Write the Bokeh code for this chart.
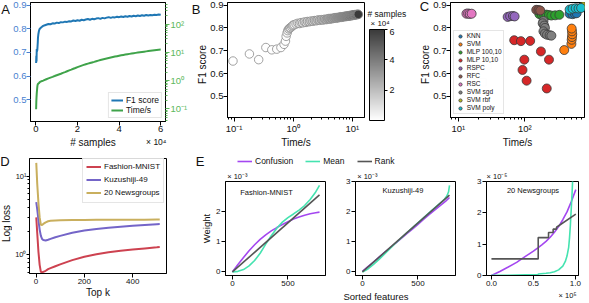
import math
from bokeh.plotting import figure
from bokeh.layouts import row, column
from bokeh.models import (Range1d, LogAxis, LogScale, Legend, LegendItem, Label, ColorBar, BoxAnnotation, Title,
                          LinearColorMapper, FixedTicker, CustomJSTickFormatter, ColumnDataSource,
                          PrintfTickFormatter, Plot)
from bokeh.transform import transform
from bokeh.embed import file_html
from bokeh.resources import INLINE

FONT = "Liberation Sans"

# ---------------- data ----------------
# A / B : learning curve
samples = [100, 200, 300, 400, 500, 600, 700, 800, 900, 1000,
           1200, 1400, 1600, 1800, 2000, 2500, 3000, 3500, 4000, 5000,
           6000, 7000, 8000, 9000, 10000,
           11000, 12000, 13000, 14000, 15000, 16000, 17000, 18000, 19000, 20000,
           21000, 22000, 23000, 24000, 25000, 26000, 27000, 28000, 29000, 30000,
           31000, 32000, 33000, 34000, 35000, 36000, 37000, 38000, 39000, 40000,
           41000, 42000, 43000, 44000, 45000, 46000, 47000, 48000, 49000, 50000,
           51000, 52000, 53000, 54000, 55000, 56000, 57000, 58000, 59000, 60000]
f1_score = [0.655, 0.686, 0.661, 0.714, 0.704, 0.707, 0.714, 0.728, 0.742, 0.763,
            0.778, 0.788, 0.795, 0.799, 0.801, 0.805, 0.809, 0.812, 0.814, 0.817,
            0.820, 0.819, 0.823, 0.822, 0.826,
            0.824, 0.828, 0.827, 0.830, 0.829, 0.832, 0.831, 0.835, 0.833, 0.836,
            0.834, 0.838, 0.836, 0.839, 0.841, 0.838, 0.842, 0.840, 0.843, 0.845,
            0.842, 0.846, 0.844, 0.847, 0.849, 0.846, 0.849, 0.848, 0.851, 0.849,
            0.852, 0.850, 0.853, 0.851, 0.854, 0.852, 0.855, 0.853, 0.856, 0.854,
            0.857, 0.855, 0.858, 0.856, 0.858, 0.857, 0.859, 0.858, 0.860, 0.859]
time_s = [0.096, 0.182, 0.261, 0.345, 0.435, 0.527, 0.62, 0.70, 0.74, 0.76,
          0.79, 0.81, 0.84, 0.87, 0.90, 0.94, 0.97, 1.0, 1.04, 1.12,
          1.2, 1.28, 1.36, 1.45, 1.55,
          1.65, 1.75, 1.88, 2.0, 2.15, 2.3, 2.45, 2.62, 2.8, 3.0,
          3.2, 3.4, 3.6, 3.8, 4.0, 4.2, 4.4, 4.6, 4.85, 5.1,
          5.35, 5.6, 5.85, 6.1, 6.35, 6.6, 6.85, 7.1, 7.35, 7.6,
          7.85, 8.1, 8.35, 8.6, 8.85, 9.1, 9.35, 9.6, 9.85, 10.1,
          10.35, 10.6, 10.85, 11.1, 11.35, 11.6, 11.85, 12.1, 12.35, 12.6]

# C : classifiers (time in s, F1 score)
knn_t = [470, 520, 560, 600];            knn_f1 = [0.862, 0.860, 0.863, 0.864]
svm_t = [390, 500, 505, 510, 515, 510, 505]
svm_f1 = [0.703, 0.730, 0.748, 0.760, 0.772, 0.785, 0.797]
mlp100_t = [165, 180, 195, 210, 230, 250, 285, 330]
mlp100_f1 = [0.860, 0.857, 0.855, 0.858, 0.856, 0.854, 0.855, 0.857]
mlp10_t = [69, 87, 120, 174, 98, 230, 92, 106, 213]
mlp10_f1 = [0.746, 0.742, 0.743, 0.697, 0.661, 0.661, 0.616, 0.569, 0.535]
rspc_t = [55, 60, 66, 70];               rspc_f1 = [0.848, 0.851, 0.852, 0.850]
rfc_t = [148, 160, 170];                 rfc_f1 = [0.879, 0.878, 0.876]
rsc_t = [13.2, 14.0, 14.8, 15.8];        rsc_f1 = [0.862, 0.863, 0.861, 0.862]
sgd_t = [190, 185, 195, 200, 190, 200, 215, 235, 250]
sgd_f1 = [0.830, 0.820, 0.810, 0.800, 0.785, 0.775, 0.770, 0.768, 0.766]
rbf_t = [750, 820];                      rbf_f1 = [0.895, 0.902]
poly_t = [470, 520, 580, 640, 700];      poly_f1 = [0.880, 0.884, 0.886, 0.885, 0.887]
clf_names = ["KNN", "SVM", "MLP 100,10", "MLP 10,10", "RSPC", "RFC", "RSC", "SVM sgd", "SVM rbf", "SVM poly"]
clf_colors = ["#1f77b4", "#ff7f0e", "#2ca02c", "#d62728", "#9467bd", "#8c564b", "#e377c2", "#7f7f7f", "#bcbd22", "#17becf"]
clf_data = [(knn_t, knn_f1), (svm_t, svm_f1), (mlp100_t, mlp100_f1), (mlp10_t, mlp10_f1), (rspc_t, rspc_f1),
            (rfc_t, rfc_f1), (rsc_t, rsc_f1), (sgd_t, sgd_f1), (rbf_t, rbf_f1), (poly_t, poly_f1)]

# D : log loss vs top k
topk = [1, 5, 10, 15, 20, 25, 30, 40, 50, 60, 80, 100, 150, 200, 250, 300, 350, 400, 450, 500, 512]
loss_fashion = [3.0, 1.9, 1.1, 0.75, 0.61, 0.60, 0.61, 0.63, 0.66, 0.68, 0.72, 0.76, 0.86, 0.95, 1.02, 1.08, 1.13, 1.17, 1.21, 1.25, 1.26]
loss_kuzushiji = [4.7, 3.8, 2.8, 2.1, 1.75, 1.6, 1.55, 1.53, 1.56, 1.6, 1.68, 1.75, 1.92, 2.04, 2.14, 2.22, 2.29, 2.35, 2.41, 2.46, 2.47]
loss_news = [14.8, 8.0, 4.6, 3.0, 2.42, 2.40, 2.48, 2.6, 2.68, 2.72, 2.75, 2.77, 2.78, 2.79, 2.8, 2.8, 2.8, 2.81, 2.81, 2.82, 2.82]

# E : weights (E1/E2 in units of 1e-3, E3 in 1e-5; E3 features in 1e5)
feat784 = [0, 50, 100, 150, 200, 250, 300, 350, 400, 450, 500, 550, 600, 650, 700, 750, 784]
fm_confusion = [0, 0.25, 0.48, 0.70, 0.90, 1.08, 1.23, 1.36, 1.47, 1.57, 1.66, 1.75, 1.82, 1.88, 1.93, 1.96, 1.98]
fm_mean = [0, 0.02, 0.08, 0.20, 0.38, 0.62, 0.92, 1.20, 1.45, 1.65, 1.80, 1.92, 2.05, 2.20, 2.40, 2.65, 2.87]
rank_x = [0, 784]
fm_rank = [0, 2.55]
kz_confusion = [0.02, 0.18, 0.33, 0.49, 0.65, 0.80, 0.96, 1.11, 1.27, 1.42, 1.58, 1.74, 1.90, 2.05, 2.20, 2.35, 2.47]
kz_mean_x = [0, 50, 100, 150, 200, 300, 400, 500, 600, 700, 740, 760, 775, 784]
kz_mean = [0, 0.10, 0.25, 0.42, 0.60, 0.96, 1.30, 1.63, 1.96, 2.28, 2.42, 2.52, 2.65, 2.87]
kz_rank = [0, 2.55]
ng_conf_x = [0, 0.1, 0.2, 0.3, 0.4, 0.5, 0.557, 0.6, 0.65, 0.7, 0.75, 0.8, 0.85, 0.9, 0.95, 1.005]
ng_confusion = [0, 0.13, 0.27, 0.42, 0.60, 0.78, 0.89, 0.98, 1.09, 1.22, 1.38, 1.56, 1.78, 2.03, 2.35, 2.74]
ng_mean_x = [0, 0.2, 0.4, 0.55, 0.56, 0.65, 0.7, 0.75, 0.8, 0.85, 0.88, 0.9, 0.92, 0.93, 0.94, 0.95, 0.96, 0.97, 0.98]
ng_mean = [0.01, 0.01, 0.02, 0.02, 0.05, 0.07, 0.09, 0.12, 0.18, 0.30, 0.45, 0.62, 0.90, 1.20, 1.60, 2.10, 2.60, 3.20, 4.00]
ng_rank_x = [0, 0.557, 0.557, 0.68, 0.68, 0.735, 0.735, 0.775, 0.775, 1.005]
ng_rank = [0.53, 0.53, 1.21, 1.21, 1.37, 1.37, 1.48, 1.48, 1.54, 1.96]

# ---------------- helpers ----------------
C_CONF, C_MEAN, C_RANK = "#a447f0", "#45e3b0", "#555555"
C_FM, C_KZ, C_NG = "#cd4250", "#7465c8", "#c9af5e"
TXT = "#111111"
HAS_FRAME_ALIGN = "frame_align" in Plot.properties()


def no_align(p):
    if HAS_FRAME_ALIGN:
        p.frame_align = False
    return p


def fig(w, h, l, r, t, b, **kw):
    return no_align(figure(width=w, height=h, min_border_left=l, min_border_right=r, min_border_top=t,
                           min_border_bottom=b, toolbar_location=None, output_backend="svg", **kw))


def strip(w, h, **kw):
    # axis-less figure whose frame is the whole canvas; used to host free text
    opts = dict(x_range=Range1d(0, 1), y_range=Range1d(0, 1))
    opts.update(kw)
    return no_align(figure(width=w, height=h, x_axis_type=None, y_axis_type=None, min_border=0,
                           toolbar_location=None, output_backend="svg", outline_line_color=None, **opts))


def sup_fmt():
    return CustomJSTickFormatter(code="""
        const m = {"-": "\u207b", "0": "\u2070", "1": "\u00b9", "2": "\u00b2", "3": "\u00b3", "4": "\u2074",
                   "5": "\u2075", "6": "\u2076", "7": "\u2077", "8": "\u2078", "9": "\u2079"};
        const e = Math.round(Math.log10(tick));
        return "10" + String(e).split("").map(c => m[c]).join("");
    """)


def log_minor(lo, hi):
    return [m * 10.0 ** e for e in range(lo, hi + 1) for m in range(2, 10)]


def style(p, tick_size, label_size):
    p.outline_line_color = "black"
    p.outline_line_width = 1
    p.grid.visible = False
    for ax in p.axis:
        ax.axis_line_color = "black"
        ax.major_tick_out = 4
        ax.major_tick_in = 0
        ax.minor_tick_out = 2
        ax.minor_tick_in = 0
        ax.major_label_text_font = FONT
        ax.major_label_text_font_size = tick_size
        ax.major_label_text_color = TXT
        ax.major_label_standoff = 1
        ax.axis_label_standoff = 0
        ax.axis_label_text_font = FONT
        ax.axis_label_text_font_size = label_size
        ax.axis_label_text_font_style = "normal"
        ax.axis_label_text_color = TXT


def text(p, x, y, s, size, align="center", angle=0):
    # x, y: px from the frame's bottom-left corner
    p.add_layout(Label(x=x, y=y, x_units="screen", y_units="screen", text=s, text_font=FONT,
                       text_font_size=size, text_align=align, text_baseline="middle", text_color=TXT,
                       angle=angle))


def title(p, s, side, size, align, offset, standoff):
    p.add_layout(Title(text=s, align=align, offset=offset, standoff=standoff, text_font=FONT,
                       text_font_size=size, text_font_style="normal", text_color=TXT), side)


def legend_style(lg, size, gw, gh, lh, pad=3, border="#cccccc", standoff=3):
    lg.label_text_font = FONT
    lg.label_text_font_size = size
    lg.label_text_color = TXT
    lg.glyph_width = gw
    lg.glyph_height = gh
    lg.label_height = lh
    lg.spacing = 0
    lg.padding = pad
    lg.margin = 3
    lg.label_standoff = standoff
    lg.border_line_color = border
    lg.border_line_width = 1
    lg.background_fill_alpha = 0.85


n_1e4 = [s / 1e4 for s in samples]
ROW1_TICK, ROW1_LAB = "9.5px", "10px"
LETTER = "13px"

# ---------------- A ----------------
sA = strip(10, 150)
text(sA, 5, 150 - 8.5, "A", LETTER)

pA = fig(180, 136, 17, 25, 2, 15, x_range=Range1d(-0.26, 6.23), y_range=Range1d(0.408, 0.911))
pA.extra_y_ranges = {"time": Range1d(0.0356, 585)}
pA.extra_y_scales = {"time": LogScale()}
rax = LogAxis(y_range_name="time")
pA.add_layout(rax, "right")
rA1 = pA.line(n_1e4, f1_score, line_color="#1f77b4", line_width=2)
rA2 = pA.line(n_1e4, time_s, line_color="#3fa34a", line_width=2, y_range_name="time")
style(pA, ROW1_TICK, ROW1_LAB)
pA.xaxis.ticker = FixedTicker(ticks=[0, 2, 4, 6])
pA.xaxis.minor_tick_line_color = None
pA.xaxis.major_label_standoff = 0
pA.yaxis[0].ticker = FixedTicker(ticks=[0.5, 0.6, 0.7, 0.8, 0.9])
pA.yaxis[0].minor_tick_line_color = None
pA.yaxis[0].major_label_standoff = 0
pA.yaxis[0].major_label_text_color = "#4a7fcf"
pA.yaxis[0].major_tick_line_color = "#4a7fcf"
rax.ticker = FixedTicker(ticks=[0.1, 1, 10, 100], minor_ticks=log_minor(-2, 2))
rax.formatter = sup_fmt()
rax.major_label_text_color = "#5cb85c"
rax.major_tick_line_color = "#5cb85c"
rax.minor_tick_line_color = "#5cb85c"
legA = Legend(items=[LegendItem(label="F1 score", renderers=[rA1]), LegendItem(label="Time/s", renderers=[rA2])],
              location="bottom_right")
legend_style(legA, "8.5px", 12, 10, 10, pad=2)
pA.add_layout(legA)

sA2 = strip(180, 14)
text(sA2, 92.5 - 10, 150 - 141.5, "# samples", ROW1_LAB)
text(sA2, 166 - 10, 150 - 141, "\u00d7 10\u2074", "8.5px", align="right")

# ---------------- B ----------------
sB = strip(17, 150)
text(sB, 5.5, 150 - 8.5, "B", LETTER)
text(sB, 12, 150 - 64, "F1 score", ROW1_LAB, angle=math.pi / 2)

pB = fig(159, 150, 18, 2, 2, 29, x_axis_type="log", x_range=Range1d(0.0776, 16.03), y_range=Range1d(0.408, 0.911))
greys = ["#%02x%02x%02x" % (v, v, v) for v in [round(255 - (255 - 58) * i / 255) for i in range(256)]]
mapper = LinearColorMapper(palette=greys, low=min(n_1e4), high=6.0)
srcB = ColumnDataSource(dict(t=time_s, f=f1_score, n=n_1e4))
pB.scatter("t", "f", source=srcB, size=8.5, fill_color=transform("n", mapper), line_color="#8a8a8a", line_width=0.8)
style(pB, ROW1_TICK, ROW1_LAB)
pB.xaxis.ticker = FixedTicker(ticks=[0.1, 1, 10], minor_ticks=log_minor(-2, 1))
pB.xaxis.formatter = sup_fmt()
pB.xaxis.axis_label = "Time/s"
pB.yaxis.ticker = FixedTicker(ticks=[0.5, 0.6, 0.7, 0.8, 0.9])
pB.yaxis.minor_tick_line_color = None
pB.yaxis.major_label_standoff = 0

# colour bar with its caption (page x 366..410)
sCap = strip(44, 28)
text(sCap, 1, 28 - 13, "# samples", "8.5px", align="left")
text(sCap, 4, 28 - 23, "\u00d7 10\u2074", "8px", align="left")
sCb = strip(44, 122)
cb = ColorBar(color_mapper=mapper, ticker=FixedTicker(ticks=[2, 4, 6]), width=15, height=91,
              location=(3, 150 - 120), padding=0, major_tick_out=3, major_tick_in=0,
              major_tick_line_color="black", bar_line_color="black", bar_line_width=1,
              major_label_text_font=FONT, major_label_text_font_size="9px", major_label_text_color=TXT,
              label_standoff=2, background_fill_alpha=0, border_line_color=None, minor_tick_line_color=None)
sCb.add_layout(cb)

# ---------------- C ----------------
sC = strip(20, 150)
text(sC, 14, 150 - 6.2, "C", LETTER)
text(sC, 15, 150 - 64, "F1 score", ROW1_LAB, angle=math.pi / 2)

C_XR, C_YR = (7.6, 787), (0.408, 0.911)
pC = fig(159, 150, 19, 5, 2, 28, x_axis_type="log", x_range=Range1d(*C_XR), y_range=Range1d(*C_YR))
for name, col, (tt, ff) in zip(clf_names, clf_colors, clf_data):
    pC.scatter(tt, ff, size=9, fill_color=col, line_color="#3a3a3a", line_width=0.8, legend_label=name)
style(pC, ROW1_TICK, ROW1_LAB)
pC.xaxis.ticker = FixedTicker(ticks=[10, 100], minor_ticks=log_minor(0, 2))
pC.xaxis.formatter = sup_fmt()
pC.xaxis.axis_label = "Time/s"
pC.yaxis.ticker = FixedTicker(ticks=[0.5, 0.6, 0.7, 0.8, 0.9])
pC.yaxis.minor_tick_line_color = None
pC.yaxis.major_label_standoff = 0
legC = pC.legend[0]
legC.location = (2.7, 3.2)
legend_style(legC, "6.5px", 10, 8, 8, pad=1, standoff=2)


# frame-pixel -> data helpers (frame spans x 449..584, y 2..122 in page pixels)
def c_x(px):
    lo, hi = math.log10(C_XR[0]), math.log10(C_XR[1])
    return 10 ** (lo + (px - 449) / 135 * (hi - lo))


def c_y(py):
    return C_YR[1] - (py - 2) / 120 * (C_YR[1] - C_YR[0])


for yc, xr in ((67.5, 490), (85.3, 485)):
    pC.add_layout(BoxAnnotation(left=c_x(455), right=c_x(xr), top=c_y(yc - 3.8), bottom=c_y(yc + 3.8),
                                fill_alpha=0, line_color="#b0b0b0", line_width=0.8))

# ---------------- D ----------------
sD = strip(12, 153)
text(sD, 4.5, 303 - 161, "D", LETTER)
text(sD, 6, 303 - 223, "Log loss", ROW1_LAB, angle=math.pi / 2)

pD = fig(181, 153, 13, 27, 8, 30, y_axis_type="log", x_range=Range1d(-27, 540), y_range=Range1d(0.582, 16.8))
rD1 = pD.line(topk, loss_fashion, line_color=C_FM, line_width=2)
rD2 = pD.line(topk, loss_kuzushiji, line_color=C_KZ, line_width=2)
rD3 = pD.line(topk, loss_news, line_color=C_NG, line_width=2)
style(pD, "8px", "10px")
pD.xaxis.ticker = FixedTicker(ticks=[0, 200, 400])
pD.xaxis.minor_tick_line_color = None
pD.xaxis.axis_label = "Top k"
pD.yaxis.ticker = FixedTicker(ticks=[1, 10], minor_ticks=log_minor(-1, 1))
pD.yaxis.formatter = sup_fmt()
pD.yaxis.major_label_standoff = 0
pD.yaxis.major_tick_out = 3
pD.yaxis.major_label_text_font_size = "7.5px"
legD = Legend(items=[LegendItem(label="Fashion-MNIST", renderers=[rD1]),
                     LegendItem(label="Kuzushiji-49", renderers=[rD2]),
                     LegendItem(label="20 Newsgroups", renderers=[rD3])], location=(78 - 25, 272.7 - 203))
legend_style(legD, "8px", 15, 13, 13, pad=3)
pD.add_layout(legD)

# ---------------- E legend strip ----------------
pL = strip(396, 18, x_range=Range1d(-2, -1), y_range=Range1d(-2, -1))
rl1 = pL.line(feat784, fm_confusion, line_color=C_CONF, line_width=1.6)
rl2 = pL.line(feat784, fm_mean, line_color=C_MEAN, line_width=1.6)
rl3 = pL.line(rank_x, fm_rank, line_color=C_RANK, line_width=1.6)
legE = Legend(items=[LegendItem(label="Confusion", renderers=[rl1]), LegendItem(label="Mean", renderers=[rl2]),
                     LegendItem(label="Rank", renderers=[rl3])],
              location=(237 - 193, 168 - 160.7 - 5), orientation="horizontal")
legend_style(legE, "8.5px", 15, 10, 10, pad=0, border=None)
legE.spacing = 12
legE.background_fill_alpha = 0
pL.add_layout(legE)
text(pL, 6.5, 168 - 160.5, "E", LETTER)


# ---------------- E panels ----------------
def e_panel(w, l, r, xr, yr):
    return fig(w, 135, l, r, 13, 28, x_range=xr, y_range=yr)


pE1 = e_panel(147, 32, 15, Range1d(-62, 838), Range1d(-0.117, 2.995))
pE1.line(feat784, fm_confusion, line_color=C_CONF, line_width=1.6)
pE1.line(feat784, fm_mean, line_color=C_MEAN, line_width=1.6)
pE1.line(rank_x, fm_rank, line_color=C_RANK, line_width=1.6)
style(pE1, "8px", "9.5px")
pE1.xaxis.ticker = FixedTicker(ticks=[0, 500])
pE1.yaxis.ticker = FixedTicker(ticks=[0, 1, 2])
pE1.yaxis.axis_label = "Weight"
pE1.yaxis.axis_label_standoff = 1
title(pE1, "\u00d7 10\u207b\u00b3", "above", "7.5px", "left", 1.7, 2)
text(pE1, 266 - 225, 275 - 192, "Fashion-MNIST", "7.5px")

pE2 = e_panel(130, 15, 15, Range1d(-62, 838), Range1d(-0.117, 3.0))
pE2.line(feat784, kz_confusion, line_color=C_CONF, line_width=1.6)
pE2.line(kz_mean_x, kz_mean, line_color=C_MEAN, line_width=1.6)
pE2.line(rank_x, kz_rank, line_color=C_RANK, line_width=1.6)
style(pE2, "8px", "9.5px")
pE2.xaxis.ticker = FixedTicker(ticks=[0, 500])
pE2.yaxis.ticker = FixedTicker(ticks=[0, 1, 2, 3])
title(pE2, "\u00d7 10\u207b\u00b3", "above", "7.5px", "left", 1.7, 2)
title(pE2, "Sorted features", "below", "9.5px", "left", 343 - 355, 0)
text(pE2, 402.5 - 355, 275 - 190, "Kuzushiji-49", "7.5px")

pE3 = e_panel(119, 16, 11, Range1d(-0.059, 1.037), Range1d(0, 3.0))
pE3.line(ng_conf_x, ng_confusion, line_color=C_CONF, line_width=1.6)
pE3.line(ng_mean_x, ng_mean, line_color=C_MEAN, line_width=1.6)
pE3.line(ng_rank_x, ng_rank, line_color=C_RANK, line_width=1.6)
style(pE3, "8px", "9.5px")
pE3.xaxis.ticker = FixedTicker(ticks=[0, 0.5, 1.0])
pE3.xaxis.formatter = PrintfTickFormatter(format="%.1f")
pE3.yaxis.ticker = FixedTicker(ticks=[0, 1, 2, 3])
title(pE3, "\u00d7 10\u207b\u2075", "above", "7.5px", "left", 0, 2)
title(pE3, "\u00d7 10\u2075", "below", "7.5px", "right", 2, 0)
text(pE3, 532.5 - 486, 275 - 190, "20 Newsgroups", "7.5px")

for p in (pE1, pE2, pE3):
    p.xaxis.minor_tick_line_color = None
    p.yaxis.minor_tick_line_color = None

row1 = row(sA, column(pA, sA2), sB, pB, column(sCap, sCb), sC, pC)
row2 = row(sD, pD, column(pL, row(pE1, pE2, pE3)))
layout = column(row1, row2)
open("out.html", "w").write(file_html(layout, INLINE, title="chart"))
